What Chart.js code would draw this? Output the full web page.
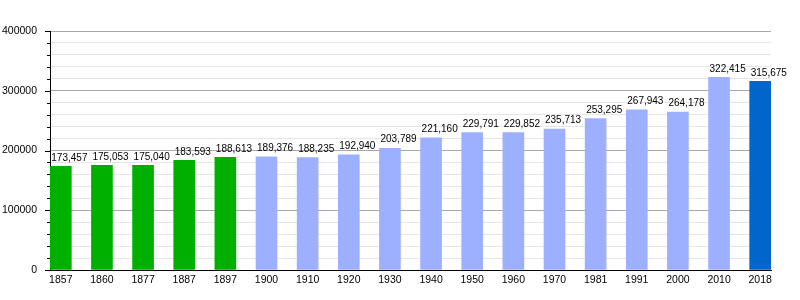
<!DOCTYPE html>
<html><head><meta charset="utf-8">
<script src="https://cdn.jsdelivr.net/npm/chart.js@4/dist/chart.umd.min.js"></script>
<style>html,body{margin:0;padding:0;background:#fff}#wrap{width:800px;height:300px}</style>
</head><body><div id="wrap"><canvas id="c" width="800" height="300"></canvas></div>
<script>
const years = ['1857','1860','1877','1887','1897','1900','1910','1920','1930','1940','1950','1960','1970','1981','1991','2000','2010','2018'];
const population = [173457,175053,175040,183593,188613,189376,188235,192940,203789,221160,229791,229852,235713,253295,267943,264178,322415,315675];
const source = ['ehess','ehess','ehess','ehess','ehess','insee','insee','insee','insee','insee','insee','insee','insee','insee','insee','insee','insee','latest'];
const yTickValues = [0,20000,40000,60000,80000,100000,120000,140000,160000,180000,200000,220000,240000,260000,280000,300000,320000,340000,360000,380000,400000];

const palette = {ehess:'#00b000', insee:'#9db0ff', latest:'#0066cc'};
const FONT = {family:'"Liberation Sans", Arial, sans-serif', size:10.5};

const valueLabels = {
  id:'valueLabels',
  afterDatasetsDraw(chart){
    const ctx = chart.ctx;
    const meta = chart.getDatasetMeta(0);
    ctx.save();
    ctx.font = '10px "Liberation Sans", Arial, sans-serif';
    ctx.fillStyle = '#000';
    ctx.textAlign = 'left';
    ctx.textBaseline = 'middle';
    meta.data.forEach((bar,i)=>{
      const p = bar.getProps(['x','y','width'], true);
      ctx.fillText(population[i].toLocaleString('en-US'), p.x - p.width/2 + 1, p.y - 8.5);
    });
    ctx.restore();
  }
};
const yTickMarks = {
  id:'yTickMarks',
  afterDraw(chart){
    const s = chart.scales.y;
    const ctx = chart.ctx;
    ctx.save();
    ctx.strokeStyle = '#000';
    ctx.lineWidth = 1;
    ctx.beginPath();
    yTickValues.forEach(v=>{
      const y = Math.round(s.getPixelForValue(v)) + 0.5;
      const len = (v % 100000 === 0) ? 5 : 3;
      ctx.moveTo(s.right - len, y);
      ctx.lineTo(s.right, y);
    });
    ctx.stroke();
    ctx.restore();
  }
};

new Chart(document.getElementById('c'), {
  type:'bar',
  data:{
    datasets:[{
      data: population.map((v,i)=>({x:i, y:v})),
      backgroundColor: source.map(s=>palette[s]),
      barThickness: 21,
      borderWidth: 0
    }]
  },
  options:{
    responsive:false,
    animation:false,
    devicePixelRatio:1,
    layout:{padding:{top:31, right:29, left:0, bottom:0}},
    plugins:{legend:{display:false}, tooltip:{enabled:false}},
    scales:{
      x:{
        type:'linear',
        offset:false,
        min:-0.2625, max:17.2625,
        afterBuildTicks: s => { s.ticks = years.map((_,i)=>({value:i})); },
        afterFit: s => { s.height = 30; },
        grid:{display:false, drawTicks:false, offset:false},
        border:{display:true, color:'#000', width:1},
        ticks:{
          autoSkip:false, maxRotation:0, padding:4, color:'#000', font:FONT,
          callback: v => years[v]
        }
      },
      y:{
        min:0, max:400000,
        afterBuildTicks: s => { s.ticks = yTickValues.map(v=>({value:v})); },
        afterFit: s => { s.width = 50; },
        grid:{
          drawTicks:false,
          color: c => (c.tick && c.tick.value % 100000 === 0) ? '#a9a9a9' : '#e6e6e6'
        },
        border:{display:true, color:'#000', width:1},
        ticks:{
          autoSkip:false, padding:13, color:'#000', font:FONT,
          callback: v => (v % 100000 === 0) ? String(v) : ''
        }
      }
    }
  },
  plugins:[valueLabels, yTickMarks]
});
</script>
</body></html>
